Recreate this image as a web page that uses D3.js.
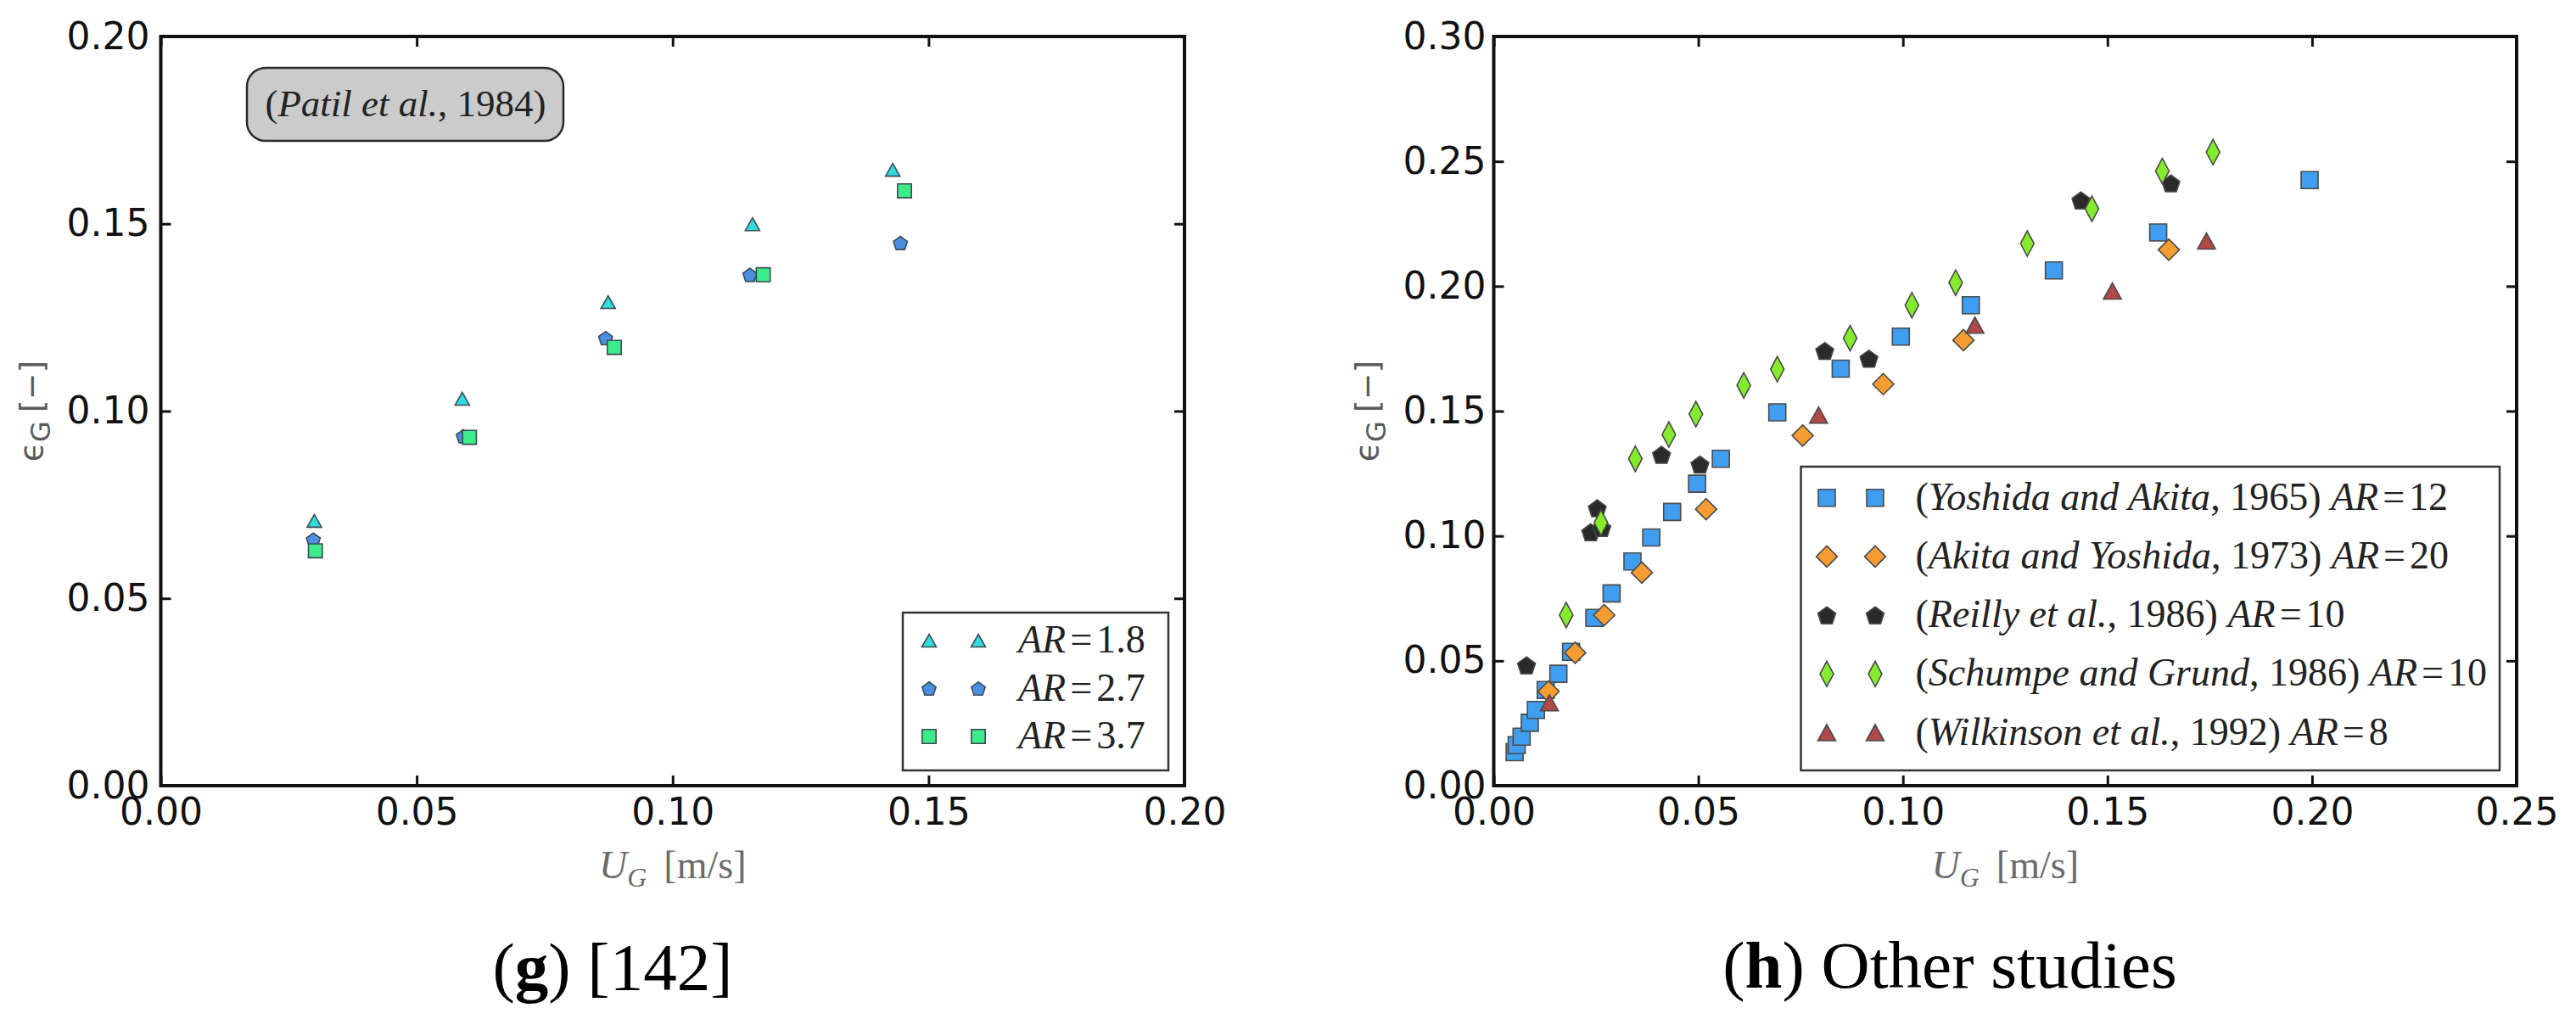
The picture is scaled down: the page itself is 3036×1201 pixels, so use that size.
<!DOCTYPE html>
<html>
<head>
<meta charset="utf-8">
<script src="https://cdn.jsdelivr.net/npm/d3@7"></script>
<style>
  body { margin: 0; background: #fff; }
  svg { display: block; }
</style>
</head>
<body>
<svg id="chart" width="3036" height="1201"></svg>
<script>
// ---- panel (g): Patil et al., 1984 ----
const patilAR = ["1.8", "2.7", "3.7"];
const ugAR18 = [0.0300, 0.0589, 0.0874, 0.1156, 0.1430];
const egAR18 = [0.0707, 0.1033, 0.1291, 0.1499, 0.1644];
const ugAR27 = [0.0298, 0.0591, 0.0869, 0.1151, 0.1445];
const egAR27 = [0.0657, 0.0933, 0.1195, 0.1364, 0.1449];
const ugAR37 = [0.0302, 0.0603, 0.0886, 0.1177, 0.1453];
const egAR37 = [0.0627, 0.0930, 0.1170, 0.1364, 0.1588];
const leftXTicks = [0.00, 0.05, 0.10, 0.15, 0.20];
const leftYTicks = [0.00, 0.05, 0.10, 0.15, 0.20];

// ---- panel (h): other studies ----
const otherNames = ["Yoshida and Akita", "Akita and Yoshida", "Reilly et al.", "Schumpe and Grund", "Wilkinson et al."];
const otherYears = ["1965", "1973", "1986", "1986", "1992"];
const otherAR = ["12", "20", "10", "10", "8"];
const ugYoshida = [0.0051, 0.0056, 0.0068, 0.0088, 0.0103, 0.0127, 0.0158, 0.0189, 0.0246, 0.0288, 0.0339,
                   0.0385, 0.0436, 0.0497, 0.0555, 0.0693, 0.0848, 0.0995, 0.1166, 0.1369, 0.1624, 0.1994];
const egYoshida = [0.0134, 0.0162, 0.0196, 0.0252, 0.0303, 0.0383, 0.0448, 0.0536, 0.0672, 0.0770, 0.0898,
                   0.0994, 0.1096, 0.1209, 0.1309, 0.1495, 0.1670, 0.1798, 0.1924, 0.2063, 0.2215, 0.2425];
const ugAkita = [0.0134, 0.0199, 0.0270, 0.0362, 0.0519, 0.0755, 0.0952, 0.1148, 0.1650];
const egAkita = [0.0377, 0.0532, 0.0683, 0.0853, 0.1107, 0.1402, 0.1608, 0.1784, 0.2146];
const ugReilly = [0.0080, 0.0237, 0.0253, 0.0264, 0.0410, 0.0504, 0.0809, 0.0917, 0.1435, 0.1655];
const egReilly = [0.0482, 0.1015, 0.1111, 0.1032, 0.1325, 0.1286, 0.1741, 0.1710, 0.2344, 0.2412];
const ugSchumpe = [0.0177, 0.0262, 0.0346, 0.0428, 0.0494, 0.0611, 0.0693, 0.0871, 0.1022, 0.1129, 0.1304,
                   0.1462, 0.1634, 0.1758];
const egSchumpe = [0.0683, 0.1053, 0.1309, 0.1406, 0.1488, 0.1603, 0.1668, 0.1792, 0.1924, 0.2014, 0.2171,
                   0.2310, 0.2461, 0.2537];
const ugWilkinson = [0.0136, 0.0794, 0.1176, 0.1512, 0.1742];
const egWilkinson = [0.0332, 0.1484, 0.1844, 0.1981, 0.2181];
const rightXTicks = [0.00, 0.05, 0.10, 0.15, 0.20, 0.25];
const rightYTicks = [0.00, 0.05, 0.10, 0.15, 0.20, 0.25, 0.30];

// marker outlines, sizes in px (half-width, half-height)
const shapes = {
  triangle: (a, b) => `M0,${-b}L${a},${b}L${-a},${b}Z`,
  square: (a) => `M${-a},${-a}H${a}V${a}H${-a}Z`,
  diamond: (a, b) => `M0,${-b}L${a},0L0,${b}L${-a},0Z`,
  pentagon: (r) => d3.range(5).map(i => {
      const t = -Math.PI / 2 + i * 2 * Math.PI / 5;
      return (i ? "L" : "M") + (r * Math.cos(t)).toFixed(2) + "," + (r * Math.sin(t) + r * 0.1).toFixed(2);
    }).join("") + "Z"
};

const svg = d3.select("#chart");
const tickFont = "'DejaVu Sans', sans-serif";
const serif = "'Liberation Serif', 'Times New Roman', serif";

function drawPanel(p) {
  const x = d3.scaleLinear().domain(p.xDomain).range([p.left, p.right]);
  const y = d3.scaleLinear().domain(p.yDomain).range([p.bottom, p.top]);
  const fmt = d3.format(".2f");
  const g = svg.append("g");

  const styleAxis = sel => {
    sel.select(".domain").remove();
    sel.selectAll(".tick line").attr("stroke", "#111").attr("stroke-width", 3);
    sel.selectAll(".tick text").attr("fill", "#111").attr("font-family", tickFont).attr("font-size", 44);
  };
  g.append("g").attr("transform", `translate(0,${p.bottom})`)
    .call(d3.axisBottom(x).tickValues(p.xTicks).tickFormat(fmt).tickSize(-12).tickPadding(15)).call(styleAxis);
  g.append("g").attr("transform", `translate(0,${p.top})`)
    .call(d3.axisTop(x).tickValues(p.xTicks).tickFormat("").tickSize(-12)).call(styleAxis);
  g.append("g").attr("transform", `translate(${p.left},0)`)
    .call(d3.axisLeft(y).tickValues(p.yTicks).tickFormat(fmt).tickSize(-12).tickPadding(p.yPad)).call(styleAxis);
  g.append("g").attr("transform", `translate(${p.right},0)`)
    .call(d3.axisRight(y).tickValues(p.yTicks).tickFormat("").tickSize(-12)).call(styleAxis);

  g.append("rect")
    .attr("x", p.left).attr("y", p.top)
    .attr("width", p.right - p.left).attr("height", p.bottom - p.top)
    .attr("fill", "none").attr("stroke", "#111").attr("stroke-width", 4);

  // points
  p.series.forEach(s => {
    g.append("g").selectAll("path")
      .data(s.ug.map((u, i) => [u, s.eg[i]]))
      .join("path")
      .attr("transform", d => `translate(${x(d[0])},${y(d[1])})`)
      .attr("d", s.path)
      .attr("fill", s.color)
      .attr("stroke", s.edge)
      .attr("stroke-width", 1.6);
  });

  // axis labels
  const xl = g.append("text")
    .attr("x", (p.left + p.right) / 2).attr("y", p.bottom + 109)
    .attr("text-anchor", "middle").attr("fill", "#6a6a6a")
    .attr("font-family", serif).attr("font-size", 46);
  xl.append("tspan").attr("font-style", "italic").text("U");
  xl.append("tspan").attr("font-style", "italic").attr("font-size", 32).attr("dy", 10).text("G");
  xl.append("tspan").attr("dy", -10).attr("dx", 20).text("[m/s]");

  const yl = g.append("text")
    .attr("transform", `translate(${p.yLabelX},${(p.top + p.bottom) / 2}) rotate(-90)`)
    .attr("text-anchor", "middle").attr("fill", "#5a5a5a")
    .attr("font-family", tickFont).attr("font-size", 38);
  yl.append("tspan").text("\u03f5");
  yl.append("tspan").attr("font-size", 32).attr("dy", 9).text("G");
  yl.append("tspan").attr("dy", -9).attr("dx", 10).text("[\u2212]");

  // legend
  const L = p.legend;
  const lg = g.append("g");
  lg.append("rect")
    .attr("x", L.x).attr("y", L.y).attr("width", L.w).attr("height", L.h)
    .attr("fill", "#fff").attr("stroke", "#333").attr("stroke-width", 2.5);
  p.series.forEach((s, i) => {
    const cy = L.y + L.first + i * L.gap;
    [L.m1, L.m2].forEach(mx => {
      lg.append("path").attr("transform", `translate(${L.x + mx},${cy})`)
        .attr("d", s.path).attr("fill", s.color).attr("stroke", s.edge).attr("stroke-width", 1.6);
    });
    const t = lg.append("text")
      .attr("x", L.x + L.tx).attr("y", cy + 14)
      .attr("font-family", serif).attr("font-size", 46).attr("fill", "#222");
    s.label(t);
  });
  return { x, y, g };
}

function arLabel(t, ar) {
  t.append("tspan").attr("font-style", "italic").text("AR");
  t.append("tspan").attr("dx", 5).text("=");
  t.append("tspan").attr("dx", 5).text(ar);
}

// panel (g)
const leftColors = ["#33dcdc", "#4a8fe2", "#3ceb8a"];
const leftPaths = [shapes.triangle(8.5, 7.5), shapes.pentagon(8.6), shapes.square(8.2)];
const leftUg = [ugAR18, ugAR27, ugAR37];
const leftEg = [egAR18, egAR27, egAR37];
const left = drawPanel({
  xDomain: [0, 0.2], yDomain: [0, 0.2],
  left: 189.5, right: 1396, top: 43, bottom: 926,
  xTicks: leftXTicks, yTicks: leftYTicks, yPad: 13, yLabelX: 50,
  series: patilAR.map((ar, i) => ({
    ug: leftUg[i], eg: leftEg[i], color: leftColors[i], edge: "#3b4a55", path: leftPaths[i],
    label: t => arLabel(t, ar)
  })),
  legend: { x: 1064, y: 722, w: 313, h: 186, first: 33, gap: 56.5, m1: 31, m2: 89, tx: 136 }
});

// Patil label box
const pb = left.g.append("g");
pb.append("rect")
  .attr("x", 291).attr("y", 80).attr("width", 373).attr("height", 86)
  .attr("rx", 22).attr("ry", 22)
  .attr("fill", "#cbcbcb").attr("stroke", "#2a2a2a").attr("stroke-width", 2.5);
const pt = pb.append("text")
  .attr("x", 478).attr("y", 137).attr("text-anchor", "middle")
  .attr("font-family", serif).attr("font-size", 45).attr("fill", "#222");
pt.append("tspan").text("(");
pt.append("tspan").attr("font-style", "italic").text("Patil et al.");
pt.append("tspan").text(", 1984)");

// panel (h)
const rightColors = ["#3f9ef0", "#f59d33", "#2a2a2a", "#84ec2c", "#b04848"];
const rightPaths = [shapes.square(10), shapes.diamond(12.5, 12.5), shapes.pentagon(11),
                    shapes.diamond(8, 15), shapes.triangle(10.5, 9.5)];
const rightUg = [ugYoshida, ugAkita, ugReilly, ugSchumpe, ugWilkinson];
const rightEg = [egYoshida, egAkita, egReilly, egSchumpe, egWilkinson];
drawPanel({
  xDomain: [0, 0.25], yDomain: [0, 0.3],
  left: 1760.5, right: 2966, top: 43, bottom: 926,
  xTicks: rightXTicks, yTicks: rightYTicks, yPad: 9, yLabelX: 1624,
  series: otherNames.map((n, i) => ({
    ug: rightUg[i], eg: rightEg[i], color: rightColors[i], edge: "#4a4a4a", path: rightPaths[i],
    label: t => {
      t.append("tspan").text("(");
      t.append("tspan").attr("font-style", "italic").text(n);
      t.append("tspan").text(", " + otherYears[i] + ") ");
      arLabel(t, otherAR[i]);
    }
  })),
  legend: { x: 2122.5, y: 550, w: 823.5, h: 358, first: 36.7, gap: 69.2, m1: 30.5, m2: 87.5, tx: 135 }
});

// sub-figure captions
const capL = svg.append("text")
  .attr("x", 722).attr("y", 1166).attr("text-anchor", "middle")
  .attr("font-family", serif).attr("font-size", 79).attr("fill", "#000");
capL.append("tspan").text("(");
capL.append("tspan").attr("font-weight", "bold").text("g");
capL.append("tspan").text(") [142]");

const capR = svg.append("text")
  .attr("x", 2298).attr("y", 1164).attr("text-anchor", "middle")
  .attr("font-family", serif).attr("font-size", 79).attr("fill", "#000");
capR.append("tspan").text("(");
capR.append("tspan").attr("font-weight", "bold").text("h");
capR.append("tspan").text(") Other studies");
</script>
</body>
</html>
